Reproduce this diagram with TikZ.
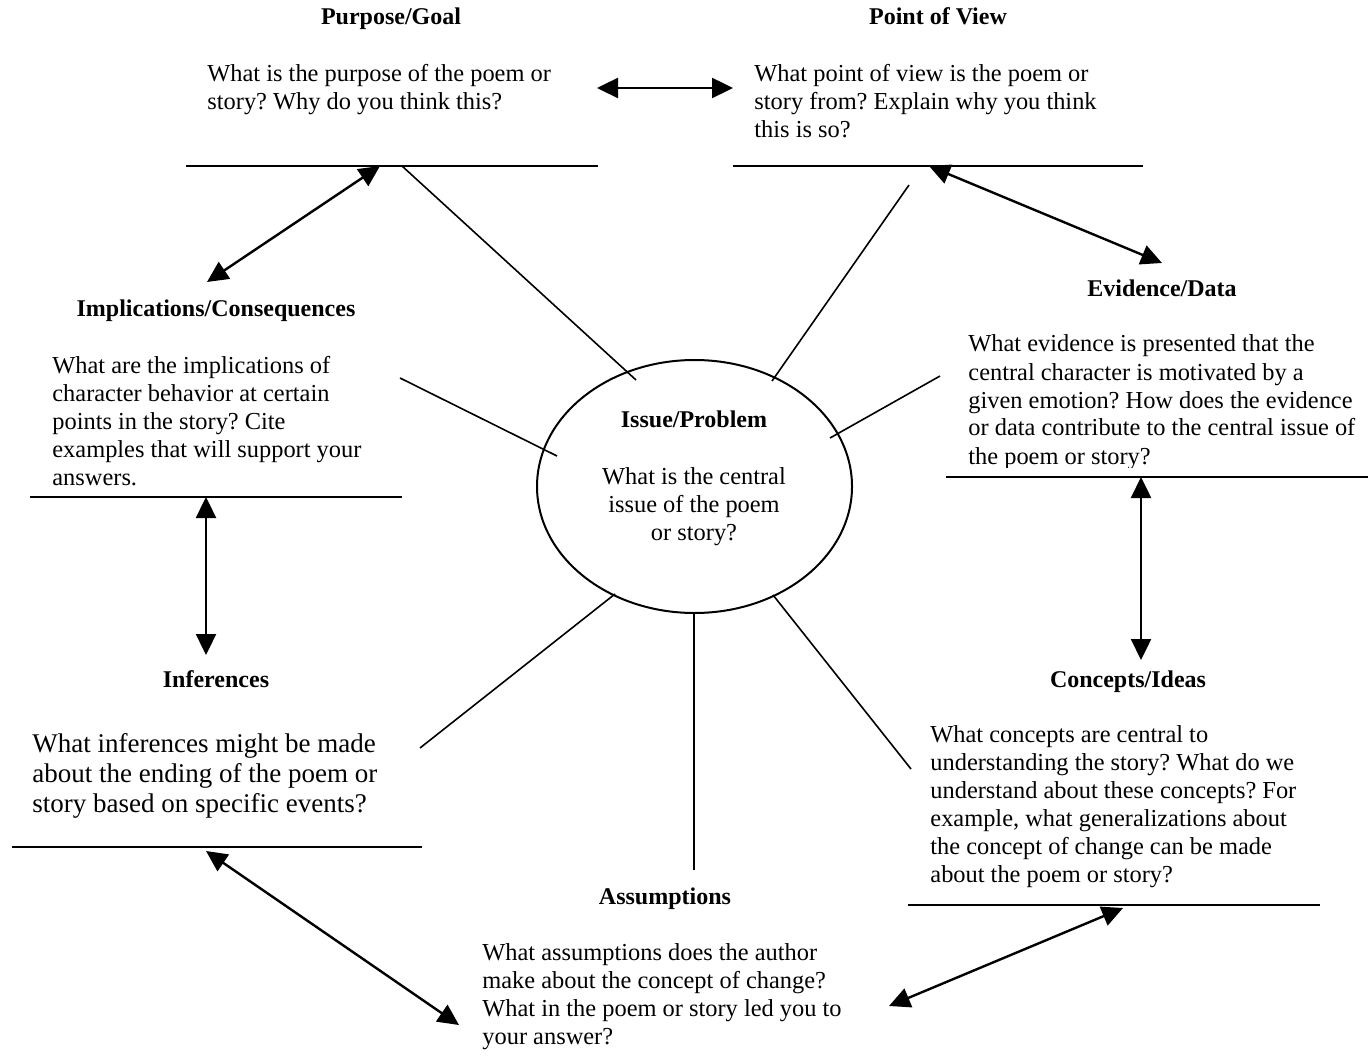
\documentclass[tikz,border=0pt]{standalone}
\usepackage{fontspec}
\setmainfont{Liberation Serif}
\usetikzlibrary{arrows.meta,shapes.geometric}
\frenchspacing

\begin{document}
\begin{tikzpicture}[x=0.5pt,y=-0.5pt,
  rule/.style={line width=1.2pt},
  spoke/.style={line width=0.8pt},
  link/.style={line width=1.2pt,
    {Triangle[length=10.5pt,width=10pt]}-{Triangle[length=10.5pt,width=10pt]}},
  head/.style={font=\fontsize{12}{14}\selectfont\bfseries,anchor=base,inner sep=0},
  % multi-line texts are placed by the baseline of their last line
  body/.style={font=\fontsize{12.2}{14}\selectfont,align=left,anchor=base west,inner sep=0},
  bigbody/.style={font=\fontsize{13.5}{15}\selectfont,align=left,anchor=base west,inner sep=0},
]
\useasboundingbox (0,0) rectangle (1368,1063);

% ---------- headings ----------
\node[head] (hPurpose) at (391,25)  {Purpose/Goal};
\node[head] (hView)    at (938,25)  {Point of View};
\node[head] (hImpl)    at (216,317) {Implications/Consequences};
\node[head] (hEvid)    at (1162,297) {Evidence/Data};
\node[head] (hInf)     at (216,687) {Inferences};
\node[head] (hConc)    at (1128,687) {Concepts/Ideas};
\node[head] (hAssum)   at (665,904) {Assumptions};

% ---------- question texts ----------
\node[body] (tPurpose) at (207,110)
  {What is the purpose of the poem or\\story? Why do you think this?};
\node[body] (tView) at (754,138)
  {What point of view is the poem or\\story from? Explain why you think\\this is so?};
\node[body] (tImpl) at (52,485)
  {What are the implications of\\character behavior at certain\\points in the story? Cite\\examples that will support your\\answers.};
\begin{scope}
  \clip (940,300) rectangle (1368,467);
  \node[body] (tEvid) at (968,464)
    {What evidence is presented that the\\central character is motivated by a\\given emotion? How does the evidence\\or data contribute to the central issue of\\the poem or story?};
\end{scope}
\node[bigbody] (tInf) at (32,812)
  {What inferences might be made\\about the ending of the poem or\\story based on specific events?};
\node[body] (tConc) at (930,882)
  {What concepts are central to\\understanding the story? What do we\\understand about these concepts? For\\example, what generalizations about\\the concept of change can be made\\about the poem or story?};
\node[body] (tAssum) at (482,1044)
  {What assumptions does the author\\make about the concept of change?\\What in the poem or story led you to\\your answer?};

% ---------- central issue ----------
\node[draw, ellipse, line width=1pt, minimum width=157.5pt, minimum height=126.5pt,
      inner sep=0] (issue) at (694.5,486.5) {};
\node[head] (hIssue) at (694,428) {Issue/Problem};
\node[body, align=center, anchor=base] (tIssue) at (694,540)
  {What is the central\\issue of the poem\\or story?};

% ---------- answer rules ----------
\coordinate (rPurposeL) at (186,166);  \coordinate (rPurposeR) at (598,166);
\coordinate (rViewL)    at (733,166);  \coordinate (rViewR)    at (1143,166);
\coordinate (rImplL)    at (30,497);   \coordinate (rImplR)    at (402,497);
\coordinate (rEvidL)    at (946,477);  \coordinate (rEvidR)    at (1368,477);
\coordinate (rInfL)     at (12,847);   \coordinate (rInfR)     at (422,847);
\coordinate (rConcL)    at (908,905);  \coordinate (rConcR)    at (1320,905);
\draw[rule] (rPurposeL) -- (rPurposeR);
\draw[rule] (rViewL) -- (rViewR);
\draw[rule] (rImplL) -- (rImplR);
\draw[rule] (rEvidL) -- (rEvidR);
\draw[rule] (rInfL) -- (rInfR);
\draw[rule] (rConcL) -- (rConcR);

% ---------- spokes to the central issue ----------
\coordinate (sPurpose) at (402,166); \coordinate (ePurpose) at (636,380);
\coordinate (sView)    at (909,185); \coordinate (eView)    at (772,381);
\coordinate (sEvid)    at (940,376); \coordinate (eEvid)    at (830,438);
\coordinate (sImpl)    at (400,378); \coordinate (eImpl)    at (557,456);
\coordinate (sInf)     at (420,748); \coordinate (eInf)     at (615,594);
\coordinate (sAssum)   at (694,870); \coordinate (eAssum)   at (694,612);
\coordinate (sConc)    at (911,769); \coordinate (eConc)    at (773,595);
\foreach \s in {Purpose,View,Evid,Impl,Inf,Assum,Conc}
  \draw[spoke] (s\s) -- (e\s);

% ---------- links between neighbouring questions ----------
\coordinate (aPurpose) at (597,88);   \coordinate (aView)   at (733,88);
\coordinate (bPurpose) at (380,166);  \coordinate (bImpl)   at (207,282);
\coordinate (cView)    at (929,166);  \coordinate (cEvid)   at (1162,263);
\coordinate (dImpl)    at (206,497);  \coordinate (dInf)    at (206,655);
\coordinate (eEvidTop) at (1141,477); \coordinate (eConcB)  at (1141,660);
\coordinate (fInf)     at (206,851);  \coordinate (fAssum)  at (459,1025);
\coordinate (gConc)    at (1123,908); \coordinate (gAssum)  at (889,1006);
\draw[link] (aPurpose) -- (aView);
\draw[link] (bPurpose) -- (bImpl);
\draw[link] (cView) -- (cEvid);
\draw[link] (dImpl) -- (dInf);
\draw[link] (eEvidTop) -- (eConcB);
\draw[link] (fInf) -- (fAssum);
\draw[link] (gConc) -- (gAssum);
\end{tikzpicture}
\end{document}
